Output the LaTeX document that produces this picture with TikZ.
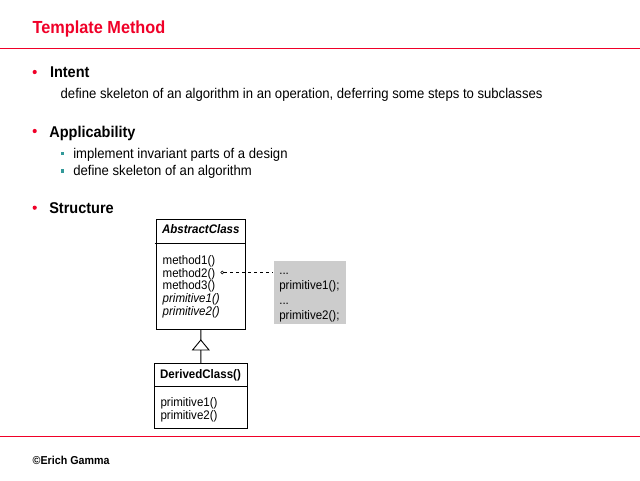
\documentclass[tikz,border=0pt]{standalone}
\usepackage{fontspec}
\setmainfont{Liberation Sans}[FakeStretch=0.93]
\definecolor{slred}{RGB}{240,0,40}
\definecolor{slteal}{RGB}{51,153,153}
\definecolor{notegray}{RGB}{204,204,204}
\begin{document}
\begin{tikzpicture}[x=1pt,y=-1pt,
  txt/.style={inner sep=0pt,outer sep=0pt,anchor=base west},
  titletxt/.style={txt,text=slred,font=\fontsize{17.5}{19}\selectfont\bfseries},
  headtxt/.style={txt,font=\fontsize{15.6}{17}\selectfont\bfseries},
  bodytxt/.style={txt,font=\fontsize{14.1}{16}\selectfont},
  umlfont/.style={font=\fontsize{12.4}{13.5}\selectfont},
  umltxt/.style={txt,umlfont},
  classbox/.style={draw,line width=0.9pt,inner sep=0pt,anchor=north west},
  notebox/.style={fill=notegray,inner sep=0pt,anchor=north west},
  redrule/.style={draw=slred,line width=1pt},
  umlline/.style={line width=0.9pt}]
\useasboundingbox[fill=white] (0,0) rectangle (640,480);

% title and rules
\node[titletxt] (title) at (32.7,33.3) {Template Method};
\draw[redrule] (0,48.3) -- (640,48.3);
\draw[redrule] (0,436.5) -- (640,436.5);

% Intent
\fill[slred] (34.7,72) circle (2.1);
\node[headtxt] (intent) at (50,77.7) {Intent};
\node[bodytxt] (intentbody) at (60.7,98.3) {define skeleton of an algorithm in an operation, deferring some steps to subclasses};

% Applicability
\fill[slred] (34.7,131) circle (2.1);
\node[headtxt] (appl) at (49.3,137) {Applicability};
\fill[slteal] (60.7,151.7) rectangle (64,155);
\node[bodytxt] (appl1) at (73.3,158.3) {implement invariant parts of a design};
\fill[slteal] (60.7,169.2) rectangle (64,172.5);
\node[bodytxt] (appl2) at (73.3,175.7) {define skeleton of an algorithm};

% Structure
\fill[slred] (34.7,207.7) circle (2.1);
\node[headtxt] (struct) at (49.3,213.5) {Structure};

% AbstractClass
\node[classbox,minimum width=89.6pt,minimum height=110pt] (abs) at (155.7,219) {};
\draw[umlline] (154.5,243.7) -- (abs.east |- 0,243.7);
\node[txt,anchor=base,font=\fontsize{12.4}{13.5}\selectfont\bfseries\itshape] (absname) at (200.8,233.3) {AbstractClass};
\node[umltxt] (m1) at (162.7,264) {method1()};
\node[umltxt] (m2) at (162.7,277) {method2()};
\node[umltxt] (m3) at (162.7,289.7) {method3()};
\node[txt,font=\fontsize{12.4}{13.5}\selectfont\itshape] (p1) at (162.7,302.3) {primitive1()};
\node[txt,font=\fontsize{12.4}{13.5}\selectfont\itshape] (p2) at (162.7,315) {primitive2()};

% note
\node[notebox,minimum width=72pt,minimum height=62.6pt] (note) at (273.3,260.7) {};
\node[umltxt] (n1) at (279.3,274) {...};
\node[umltxt] (n2) at (279.3,289.2) {primitive1();};
\node[umltxt] (n3) at (279.3,304.2) {...};
\node[umltxt] (n4) at (279.3,319) {primitive2();};
\node[circle,draw,line width=0.6pt,inner sep=0pt,minimum size=3pt] (dot) at (222.3,272.5) {};
\draw[line width=0.8pt,dash pattern=on 3pt off 3pt] (dot.east) -- (dot -| note.west);

% DerivedClass
\node[classbox,minimum width=92.7pt,minimum height=65pt] (der) at (154,363.3) {};
\draw[umlline] (der.west |- 0,386.7) -- (der.east |- 0,386.7);
\node[txt,anchor=base,font=\fontsize{12.4}{13.5}\selectfont\bfseries] (dername) at (200.5,378.3) {DerivedClass()};
\node[umltxt] (dp1) at (160.5,406.7) {primitive1()};
\node[umltxt] (dp2) at (160.5,419.3) {primitive2()};

% generalization
\coordinate (apex) at (200.8,340);
\coordinate (tribase) at (200.8,350);
\draw[umlline] (abs.south) -- (apex);
\draw[umlline,line join=miter] (apex) -- (192.6,350) -- (209,350) -- cycle;
\draw[umlline] (tribase) -- (der.north);

% footer
\node[txt,font=\fontsize{11.5}{13}\selectfont\bfseries] (footer) at (32.7,464.5) {©Erich Gamma};
\end{tikzpicture}
\end{document}
